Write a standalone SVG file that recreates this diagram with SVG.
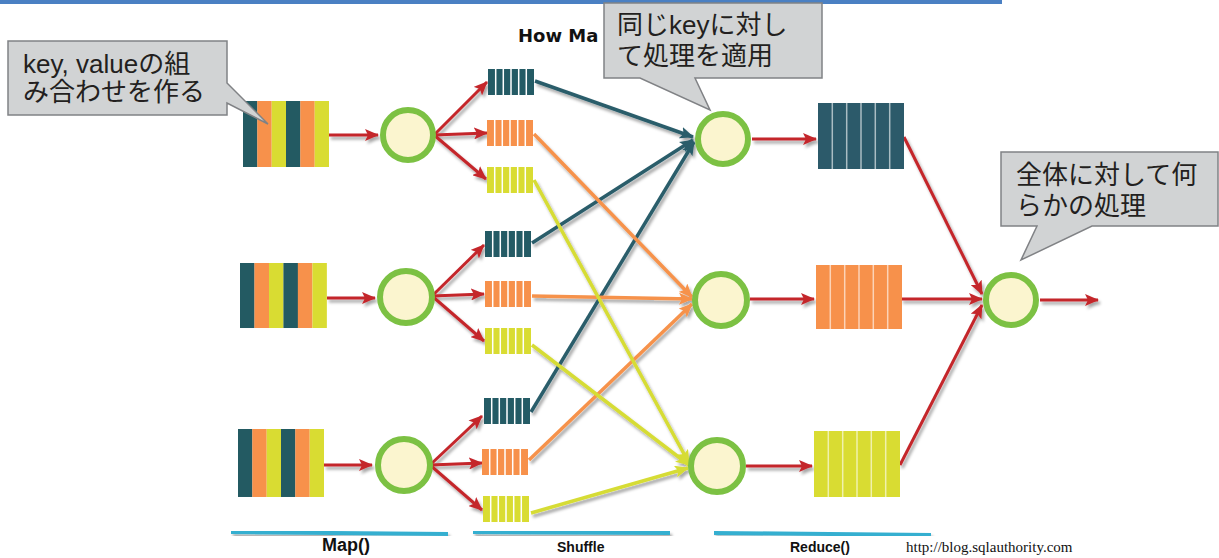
<svg xmlns="http://www.w3.org/2000/svg" xmlns:xlink="http://www.w3.org/1999/xlink" width="1219" height="558" viewBox="0 0 1219 558">
<style>
.red{stroke:#c4262c;stroke-width:3;fill:none;marker-end:url(#ahRed)}
.teal{stroke:#2a5d6b;stroke-width:3.5;fill:none;marker-end:url(#ahTeal)}
.orange{stroke:#f6924b;stroke-width:3.5;fill:none;marker-end:url(#ahOrange)}
.yellow{stroke:#d6dc35;stroke-width:3.5;fill:none;marker-end:url(#ahYellow)}
.circ{fill:#fbf5cf;stroke:#7cc143;stroke-width:6}
.sep{stroke:#ffffff;stroke-width:1.5}
.bsep{stroke:#ffffff;stroke-opacity:0.6;stroke-width:1.5}
.call{fill:#d1d3d4;stroke:#808285;stroke-width:1.5}
.ctext{font-family:"Liberation Sans","Noto Sans CJK JP",sans-serif;font-size:26px;fill:#231f20}
.lbl{font-family:"Liberation Sans",Arial,sans-serif;font-weight:bold;fill:#111}
.uline{stroke:#36afd0;stroke-width:4}
</style>
<defs>
<filter id="sh" x="-20%" y="-20%" width="140%" height="140%">
<feDropShadow dx="2" dy="3" stdDeviation="1.5" flood-color="#000" flood-opacity="0.35"/>
</filter>
<marker id="ahRed" markerUnits="userSpaceOnUse" markerWidth="14" markerHeight="12" refX="13" refY="6" orient="auto"><path d="M0,0 L14,6 L0,12 L3,6 Z" fill="#c4262c"/></marker>
<marker id="ahTeal" markerUnits="userSpaceOnUse" markerWidth="14" markerHeight="12" refX="13" refY="6" orient="auto"><path d="M0,0 L14,6 L0,12 L3,6 Z" fill="#2a5d6b"/></marker>
<marker id="ahOrange" markerUnits="userSpaceOnUse" markerWidth="14" markerHeight="12" refX="13" refY="6" orient="auto"><path d="M0,0 L14,6 L0,12 L3,6 Z" fill="#f6924b"/></marker>
<marker id="ahYellow" markerUnits="userSpaceOnUse" markerWidth="14" markerHeight="12" refX="13" refY="6" orient="auto"><path d="M0,0 L14,6 L0,12 L3,6 Z" fill="#d6dc35"/></marker>
<g id="inBlock">
<rect x="0" y="0" width="14.4" height="66" fill="#235a62"/>
<rect x="14.3" y="0" width="14.4" height="66" fill="#f7914b"/>
<rect x="28.7" y="0" width="14.4" height="66" fill="#d9dc32"/>
<rect x="43" y="0" width="14.4" height="66" fill="#235a62"/>
<rect x="57.3" y="0" width="14.4" height="66" fill="#f7914b"/>
<rect x="71.7" y="0" width="14.3" height="66" fill="#d9dc32"/>
</g>
<path id="sqSep" class="sep" d="M7.7,0V26M15.3,0V26M23,0V26M30.7,0V26M38.3,0V26"/>
<g id="sqTeal"><rect width="46" height="26" fill="#245b65"/><use xlink:href="#sqSep"/></g>
<g id="sqOrange"><rect width="46" height="26" fill="#f7914b"/><use xlink:href="#sqSep"/></g>
<g id="sqYellow"><rect width="46" height="26" fill="#d9dc32"/><use xlink:href="#sqSep"/></g>
<path id="bSep" class="bsep" d="M14.3,0V66M28.7,0V66M43,0V66M57.3,0V66M71.7,0V66"/>
</defs>

<rect x="0" y="0" width="1002" height="4" fill="#4a80c3"/>

<text x="518" y="42" style="font-family:'DejaVu Sans',Verdana,sans-serif;font-weight:bold;font-size:18px;fill:#111">How Ma</text>

<g id="connectors">
<g filter="url(#sh)">
<line class="red" x1="329" y1="135" x2="378" y2="135"/>
<line class="red" x1="327" y1="298" x2="375" y2="298"/>
<line class="red" x1="324" y1="465" x2="372" y2="465"/>
<line class="red" x1="434" y1="135" x2="487" y2="82"/>
<line class="red" x1="434" y1="135" x2="487" y2="133"/>
<line class="red" x1="434" y1="135" x2="486" y2="179"/>
<line class="red" x1="432" y1="296" x2="484" y2="245"/>
<line class="red" x1="432" y1="296" x2="484" y2="294"/>
<line class="red" x1="432" y1="296" x2="484" y2="341"/>
<line class="red" x1="430" y1="465" x2="482" y2="416"/>
<line class="red" x1="430" y1="465" x2="482" y2="463"/>
<line class="red" x1="430" y1="465" x2="482" y2="510"/>
<line class="teal" x1="535" y1="81" x2="693" y2="137"/>
<line class="teal" x1="532" y1="243" x2="693" y2="140"/>
<line class="teal" x1="531" y1="412" x2="694" y2="142"/>
<line class="orange" x1="534" y1="134" x2="692" y2="297"/>
<line class="orange" x1="532" y1="296" x2="692" y2="299"/>
<line class="orange" x1="529" y1="460" x2="692" y2="304"/>
<line class="yellow" x1="534" y1="180" x2="689" y2="463"/>
<line class="yellow" x1="532" y1="345" x2="689" y2="465"/>
<line class="yellow" x1="531" y1="513" x2="688" y2="468"/>
<line class="red" x1="752" y1="139" x2="816" y2="139"/>
<line class="red" x1="750" y1="299" x2="814" y2="299"/>
<line class="red" x1="746" y1="466" x2="812" y2="466"/>
<line class="red" x1="904" y1="137" x2="982" y2="294"/>
<line class="red" x1="901" y1="299" x2="982" y2="299"/>
<line class="red" x1="900" y1="465" x2="982" y2="305"/>
<line class="red" x1="1040" y1="300" x2="1098" y2="300"/>
</g>
</g>

<g id="input1"><use xlink:href="#inBlock" transform="translate(243,101)"/></g>
<g id="input2"><use xlink:href="#inBlock" transform="translate(240,263) scale(1.01,0.985)"/></g>
<g id="input3"><use xlink:href="#inBlock" transform="translate(238,429) scale(1,1.03)"/></g>

<g id="map1"><circle class="circ" cx="408" cy="135" r="25"/></g>
<g id="map2"><circle class="circ" cx="406" cy="297" r="26"/></g>
<g id="map3"><circle class="circ" cx="404" cy="465" r="26"/></g>

<g id="q1t"><use xlink:href="#sqTeal" transform="translate(488,69)"/></g>
<g id="q1o"><use xlink:href="#sqOrange" transform="translate(487,120)"/></g>
<g id="q1y"><use xlink:href="#sqYellow" transform="translate(487,167)"/></g>
<g id="q2t"><use xlink:href="#sqTeal" transform="translate(485,231)"/></g>
<g id="q2o"><use xlink:href="#sqOrange" transform="translate(485,281)"/></g>
<g id="q2y"><use xlink:href="#sqYellow" transform="translate(485,328)"/></g>
<g id="q3t"><use xlink:href="#sqTeal" transform="translate(484,398)"/></g>
<g id="q3o"><use xlink:href="#sqOrange" transform="translate(482,449)"/></g>
<g id="q3y"><use xlink:href="#sqYellow" transform="translate(483,496)"/></g>

<g id="reduce1"><circle class="circ" cx="723" cy="139" r="25"/></g>
<g id="reduce2"><circle class="circ" cx="721" cy="300" r="26"/></g>
<g id="reduce3"><circle class="circ" cx="717" cy="466" r="26"/></g>

<g id="out1" transform="translate(818,103)"><rect width="86" height="66" fill="#2c5a6a"/><use xlink:href="#bSep"/></g>
<g id="out2" transform="translate(816,265)"><rect width="86" height="64" fill="#f7914b"/><use xlink:href="#bSep" transform="scale(1,0.97)"/></g>
<g id="out3" transform="translate(814,431)"><rect width="86" height="66" fill="#d9dc32"/><use xlink:href="#bSep"/></g>

<g id="final"><circle class="circ" cx="1011" cy="300" r="25"/></g>

<g id="callout1">
<path class="call" d="M8,41 H227 V83 L268,124 L227,103 V115 H8 Z"/>
<text class="ctext" x="23" y="73">key, valueの組</text>
<text class="ctext" x="23" y="101">み合わせを作る</text>
</g>
<g id="callout2">
<path class="call" d="M604,3 H822 V78 H695 L710,110 L640,78 H604 Z"/>
<text class="ctext" x="617" y="34">同じkeyに対し</text>
<text class="ctext" x="617" y="65">て処理を適用</text>
</g>
<g id="callout3">
<path class="call" d="M1001,152 H1218 V226 H1092 L1021,260 L1037,226 H1001 Z"/>
<text class="ctext" x="1016" y="184">全体に対して何</text>
<text class="ctext" x="1016" y="215">らかの処理</text>
</g>

<g id="phases">
<g filter="url(#sh)">
<line class="uline" x1="231" y1="532" x2="448" y2="534"/>
<line class="uline" x1="473" y1="532" x2="670" y2="533"/>
<line class="uline" x1="714" y1="533" x2="931" y2="535"/>
</g>
<text class="lbl" x="322" y="551" style="font-size:18px">Map()</text>
<text class="lbl" x="557" y="552" style="font-size:14px">Shuffle</text>
<text class="lbl" x="790" y="552" style="font-size:14px">Reduce()</text>
<text x="906" y="552" style="font-family:'Liberation Serif','Times New Roman',serif;font-size:15px;fill:#111">http://blog.sqlauthority.com</text>
</g>
</svg>
